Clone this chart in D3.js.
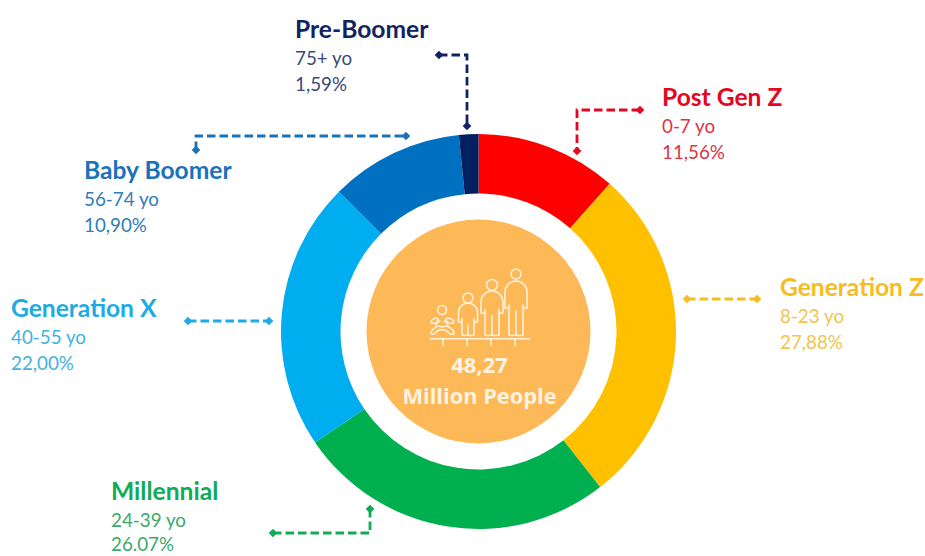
<!DOCTYPE html>
<html>
<head>
<meta charset="utf-8">
<script src="https://cdn.jsdelivr.net/npm/d3@7"></script>
<style>
  html, body { margin: 0; padding: 0; background: #fff; }
  text { font-family: Lato, "Open Sans", sans-serif; }
</style>
</head>
<body>
<svg id="surface" width="925" height="556" style="display:block"></svg>
<script>
// chart data
const generations = ["Post Gen Z", "Generation Z", "Millennial", "Generation X", "Baby Boomer", "Pre-Boomer"];
const ageRanges = ["0-7 yo", "8-23 yo", "24-39 yo", "40-55 yo", "56-74 yo", "75+ yo"];
const shares = [11.56, 27.88, 26.07, 22.00, 10.90, 1.59];
const shareLabels = ["11,56%", "27,88%", "26.07%", "22,00%", "10,90%", "1,59%"];
const totalLabels = ["48,27", "Million People"];

// styles, same order as generations
const ringColours = ["#ff0000", "#ffc000", "#00b04f", "#00aeef", "#0070c0", "#002060"];
const nameColours = ["#e5061f", "#f5bd22", "#10ab55", "#1cabe4", "#1a72b8", "#12245f"];
const subColours = ["#dd3346", "#f0c54e", "#3aa96b", "#3fb2e0", "#2f7cb8", "#3d4a78"];

// label anchor (x of text, baseline of name)
const labelX = [662, 780, 111, 11, 84, 295];
const labelY = [106, 296, 500, 317, 179, 38];

// connector polylines, a diamond goes on each end
const connectors = [
  [[640, 110], [577, 110], [577, 151]],
  [[687, 299], [757, 299]],
  [[273, 533], [370, 533], [370, 509]],
  [[188, 321], [269, 321]],
  [[196, 150], [196, 136], [406, 136]],
  [[439, 55], [467, 55], [467, 126]]
];

const cx = 478.5, cy = 331.5;
const outerR = 197.5, innerR = 138, coreR = 112;

const svg = d3.select("#surface");

// ring
const pie = d3.pie().sort(null).value((d) => d);
const arc = d3.arc().innerRadius(innerR).outerRadius(outerR);
const ring = svg.append("g").attr("transform", `translate(${cx},${cy})`);

ring.selectAll("path")
  .data(pie(shares))
  .join("path")
  .attr("d", arc)
  .attr("fill", (d, i) => ringColours[i]);

ring.append("circle").attr("r", coreR).attr("fill", "#fdb858");

// connectors
const line = d3.line();
connectors.forEach((pts, i) => {
  svg.append("path")
    .attr("d", line(pts))
    .attr("fill", "none")
    .attr("stroke", nameColours[i])
    .attr("stroke-width", 2.8)
    .attr("stroke-dasharray", "8.5 4");

  // diamond on both ends
  [pts[0], pts[pts.length - 1]].forEach((p) => {
    svg.append("path")
      .attr("d", d3.symbol(d3.symbolSquare, 38)())
      .attr("transform", `translate(${p[0]},${p[1]}) rotate(45)`)
      .attr("fill", nameColours[i]);
  });
});

// labels
generations.forEach((name, i) => {
  const g = svg.append("g");
  g.append("text").attr("x", labelX[i]).attr("y", labelY[i])
    .attr("font-size", 24.6).attr("font-weight", 700)
    .attr("fill", nameColours[i]).text(name);
  g.append("text").attr("x", labelX[i]).attr("y", labelY[i] + 27)
    .attr("font-size", 18.8).attr("fill", subColours[i]).text(ageRanges[i]);
  // bottom line of Millennial has to stay inside the page
  g.append("text").attr("x", labelX[i]).attr("y", Math.min(labelY[i] + 53, 551))
    .attr("font-size", 18.8).attr("fill", subColours[i]).text(shareLabels[i]);
});

// centre text
svg.append("text").attr("x", cx + 1).attr("y", 373).attr("text-anchor", "middle")
  .style("font-family", "'Open Sans'")
  .attr("font-size", 22).attr("font-weight", 700).attr("fill", "#fff3e0").text(totalLabels[0]);
svg.append("text").attr("x", cx + 1).attr("y", 404).attr("text-anchor", "middle")
  .style("font-family", "'Open Sans'")
  .attr("font-size", 21.8).attr("font-weight", 700).attr("fill", "#fff3e0").text(totalLabels[1]);

// family icon
const icon = svg.append("g")
  .attr("fill", "none")
  .attr("stroke", "#fff3e0")
  .attr("stroke-width", 1.5)
  .attr("stroke-linecap", "round");

function person(x, headY, headR, bodyTop, bodyBtm, bodyW, legW) {
  icon.append("circle").attr("cx", x).attr("cy", headY).attr("r", headR);
  const w = bodyW / 2, l = legW / 2;
  icon.append("path").attr("d",
    `M${x - l},${bodyBtm - 3} L${x - w},${bodyBtm - 3} L${x - w},${bodyTop + w}
     A${w},${w} 0 0 1 ${x + w},${bodyTop + w} L${x + w},${bodyBtm - 3} L${x + l},${bodyBtm - 3}`);
  icon.append("path").attr("d",
    `M${x - l},${bodyBtm - 6} L${x - l},334 Q${x - l},335.5 ${x - l + 2},335.5 L${x - 1.5},335.5 Q${x - 0.5},335.5 ${x},334 L${x},${bodyBtm}
     M${x},334 Q${x + 0.5},335.5 ${x + 1.5},335.5 L${x + l - 2},335.5 Q${x + l},335.5 ${x + l},334 L${x + l},${bodyBtm - 6}`);
}

person(516, 274, 5, 281, 311, 22, 14);
person(492, 285, 5.5, 291, 316, 22, 14);
person(468, 298, 5, 303, 325, 19, 12);

// baby, sitting
icon.append("circle").attr("cx", 442).attr("cy", 310).attr("r", 4.5);
icon.append("path").attr("d", "M437,318 Q431,319 431,322 Q431,324 436,323 L440,321 M447,318 Q454,319 454,322 Q454,324 449,323 L444,321");
icon.append("path").attr("d", "M438,319 L436,326 M446,319 L448,326");
icon.append("path").attr("d", "M431,332 Q436,324 442,327 Q449,324 454,332 Q455,335 450,334 Q445,329 442,330 Q439,329 434,334 Q430,335 431,332");

// floor
icon.append("path").attr("d", "M430,338.7 L530,338.7 M443,338.7 L443,345.5 M467,338.7 L467,345.5 M491,338.7 L491,345.5 M515,338.7 L515,345.5");
</script>
</body>
</html>
